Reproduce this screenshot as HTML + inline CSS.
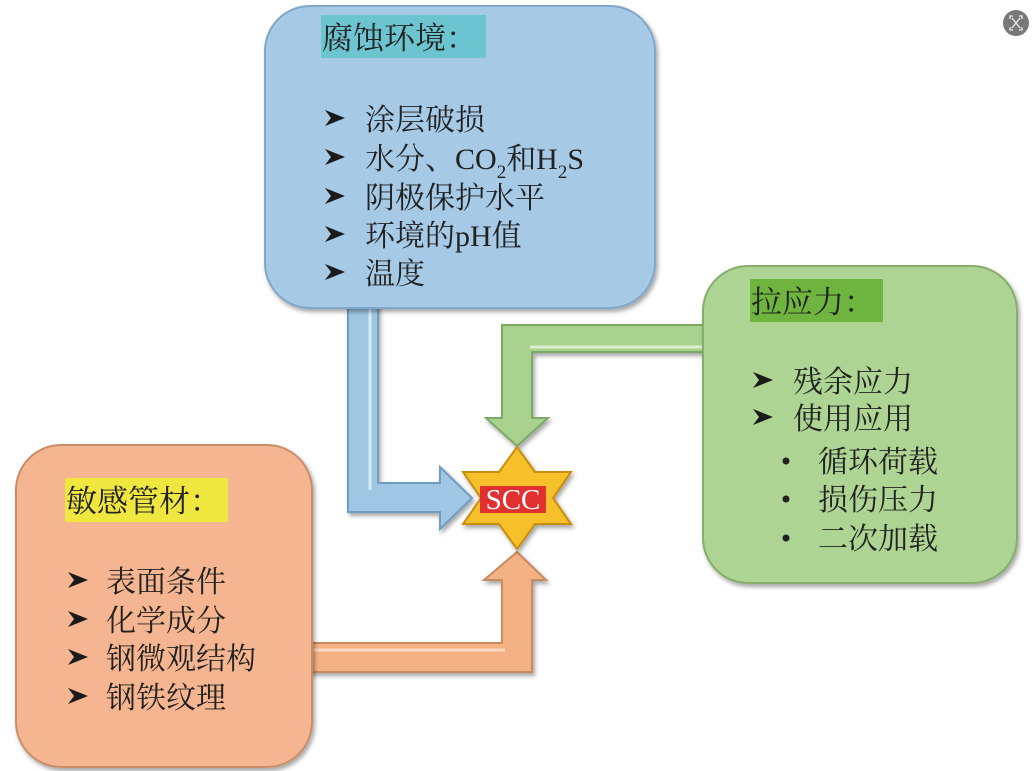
<!DOCTYPE html>
<html><head><meta charset="utf-8"><style>
html,body{margin:0;padding:0;background:#fff;width:1032px;height:771px;overflow:hidden}
text{font-family:"Liberation Serif","Noto Serif CJK SC",serif;fill:#222}
</style></head><body>
<svg width="1032" height="771" viewBox="0 0 1032 771" xmlns="http://www.w3.org/2000/svg">
<defs>
<filter id="sh" x="-10%" y="-10%" width="120%" height="120%"><feDropShadow dx="2" dy="3" stdDeviation="2" flood-color="#000" flood-opacity="0.35"/></filter>
<symbol id="ar" viewBox="0 0 20 20"><polygon points="0,2 20,10 0,18 6,10" fill="#1a1a1a"/></symbol>
</defs>

<path d="M348 300 L378 300 L378 483 L440 483 L440 467 L472 498 L440 529 L440 512 L348 512 Z" fill="#9fc6e3" stroke="#6f9cc0" stroke-width="2" filter="url(#sh)"/>
<line x1="370" y1="305" x2="370" y2="490" stroke="#d8ecf8" stroke-width="3"/>
<path d="M710 325 L710 352 L532 352 L532 418 L548 418 L517 446 L486 418 L502 418 L502 325 Z" fill="#a9d18e" stroke="#7ea865" stroke-width="2" filter="url(#sh)"/>
<line x1="530" y1="347" x2="705" y2="347" stroke="#dcefcf" stroke-width="3"/>
<path d="M305 643 L502 643 L502 580 L484 580 L517 552 L546 580 L532 580 L532 672 L305 672 Z" fill="#f4b183" stroke="#c98a5e" stroke-width="2" filter="url(#sh)"/>
<line x1="310" y1="650" x2="505" y2="650" stroke="#fbd8c0" stroke-width="3"/>

<polygon points="517,447 535,472 571,472 553,498 571,524 535,524 517,549 499,524 463,524 481,498 463,472 499,472" fill="#f5c02a" stroke="#c98e10" stroke-width="2" filter="url(#sh)"/>
<rect x="480" y="486" width="66" height="27" fill="#e03030"/>
<text x="513" y="509" text-anchor="middle" style="fill:#fff;font-size:29px;font-family:'Liberation Serif',serif">SCC</text>

<rect x="265" y="6" width="390" height="302" rx="45" fill="#a6cae6" stroke="#7ea7c8" stroke-width="2" filter="url(#sh)"/>
<rect x="321" y="15" width="165" height="43" fill="#6cc4d0"/>
<text x="322" y="49" font-size="31">腐蚀环境：</text>
<g font-size="30">
<use href="#ar" x="325" y="108" width="20" height="20"/><text x="365" y="130">涂层破损</text>
<use href="#ar" x="325" y="147" width="20" height="20"/><text x="365" y="169">水分、CO<tspan font-size="19" dy="9">2</tspan><tspan dy="-9">和H</tspan><tspan font-size="19" dy="9">2</tspan><tspan dy="-9">S</tspan></text>
<use href="#ar" x="325" y="186" width="20" height="20"/><text x="365" y="208">阴极保护水平</text>
<use href="#ar" x="325" y="224" width="20" height="20"/><text x="365" y="246">环境的pH值</text>
<use href="#ar" x="325" y="262" width="20" height="20"/><text x="365" y="284">温度</text>
</g>

<rect x="703" y="266" width="314" height="317" rx="45" fill="#add492" stroke="#86ad6c" stroke-width="2" filter="url(#sh)"/>
<rect x="750" y="279" width="133" height="43" fill="#6fb43e"/>
<text x="751" y="313" font-size="31">拉应力：</text>
<g font-size="30">
<use href="#ar" x="753" y="370" width="20" height="20"/><text x="793" y="392">残余应力</text>
<use href="#ar" x="753" y="407" width="20" height="20"/><text x="793" y="429">使用应用</text>
<circle cx="786" cy="461" r="3.5" fill="#222"/><text x="818" y="472">循环荷载</text>
<circle cx="786" cy="499" r="3.5" fill="#222"/><text x="818" y="510">损伤压力</text>
<circle cx="786" cy="538" r="3.5" fill="#222"/><text x="818" y="549">二次加载</text>
</g>

<rect x="16" y="445" width="296" height="322" rx="45" fill="#f5b590" stroke="#c98d68" stroke-width="2" filter="url(#sh)"/>
<rect x="65" y="478" width="163" height="44" fill="#f0e640"/>
<text x="66" y="512" font-size="31">敏感管材：</text>
<g font-size="30">
<use href="#ar" x="68" y="570" width="20" height="20"/><text x="106" y="592">表面条件</text>
<use href="#ar" x="68" y="609" width="20" height="20"/><text x="106" y="631">化学成分</text>
<use href="#ar" x="68" y="647" width="20" height="20"/><text x="106" y="669">钢微观结构</text>
<use href="#ar" x="68" y="686" width="20" height="20"/><text x="106" y="708">钢铁纹理</text>
</g>

<circle cx="1016" cy="23" r="13" fill="#777"/>
<path d="M1010 19 v-3 h3 M1019 16 h3 v3 M1022 27 v3 h-3 M1013 30 h-3 v-3 M1012 18 l8 10 M1020 18 l-8 10" stroke="#eee" stroke-width="1.3" fill="none"/>
</svg>
</body></html>
